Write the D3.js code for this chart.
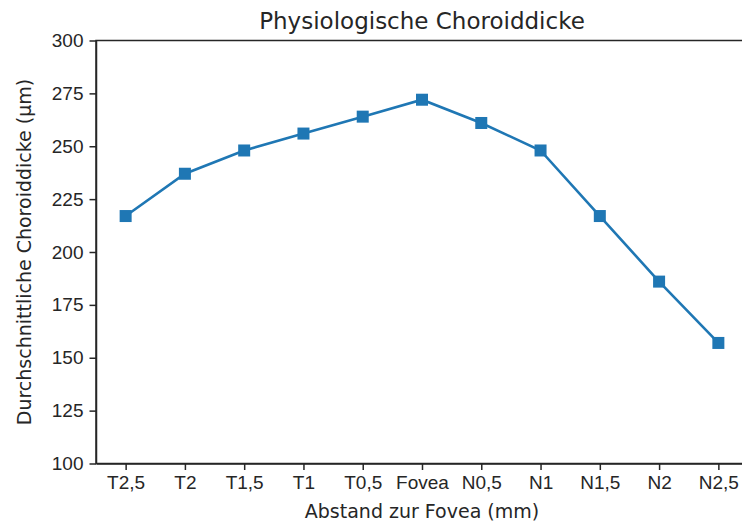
<!DOCTYPE html>
<html>
<head>
<meta charset="utf-8">
<script src="https://cdn.jsdelivr.net/npm/d3@7"></script>
<style>
  body { margin: 0; background: #fff; }
  svg { display: block; font-family: "DejaVu Sans", sans-serif; }
  .axis text { fill: #262626; font-size: 19px; }
  .axis path, .axis line { stroke: #262626; stroke-width: 1.5; }
</style>
</head>
<body>
<svg id="chart"></svg>
<script>
// Data
const categories = ["T2,5", "T2", "T1,5", "T1", "T0,5", "Fovea", "N0,5", "N1", "N1,5", "N2", "N2,5"];
const thickness = [217, 237, 248, 256, 264, 272, 261, 248, 217, 186, 157];
const yTicks = [100, 125, 150, 175, 200, 225, 250, 275, 300];

const W = 742, H = 524;
const margin = { left: 96, right: 748, top: 40.5, bottom: 463.5 };

const svg = d3.select("#chart")
    .attr("width", W)
    .attr("height", H);

// x: categorical index with matplotlib-like half-step margins
const x = d3.scaleLinear()
    .domain([-0.5, categories.length - 0.5])
    .range([margin.left, margin.right]);

const y = d3.scaleLinear()
    .domain([100, 300])
    .range([margin.bottom, margin.top]);

// frame (top + right spines; right one falls outside the crop)
svg.append("rect")
    .attr("x", margin.left)
    .attr("y", margin.top)
    .attr("width", margin.right - margin.left)
    .attr("height", margin.bottom - margin.top)
    .attr("fill", "none")
    .attr("stroke", "#262626")
    .attr("stroke-width", 1.5);

// X axis
svg.append("g")
    .attr("class", "axis")
    .attr("transform", `translate(0,${margin.bottom})`)
    .call(d3.axisBottom(x)
        .tickValues(d3.range(categories.length))
        .tickFormat(i => categories[i])
        .tickSize(6.5)
        .tickSizeOuter(0)
        .tickPadding(6));

// Y axis
svg.append("g")
    .attr("class", "axis")
    .attr("transform", `translate(${margin.left},0)`)
    .call(d3.axisLeft(y)
        .tickValues(yTicks)
        .tickSize(6.5)
        .tickSizeOuter(0)
        .tickPadding(6));

// line
const line = d3.line()
    .x((d, i) => x(i))
    .y(d => y(d));

svg.append("path")
    .datum(thickness)
    .attr("fill", "none")
    .attr("stroke", "#1f77b4")
    .attr("stroke-width", 2.6)
    .attr("d", line);

// square markers
const ms = 12;
svg.selectAll(".marker")
    .data(thickness)
    .enter()
    .append("rect")
    .attr("class", "marker")
    .attr("x", (d, i) => x(i) - ms / 2)
    .attr("y", d => y(d) - ms / 2)
    .attr("width", ms)
    .attr("height", ms)
    .attr("fill", "#1f77b4");

// title
svg.append("text")
    .attr("x", (margin.left + margin.right) / 2)
    .attr("y", 29)
    .attr("text-anchor", "middle")
    .attr("fill", "#262626")
    .style("font-size", "23px")
    .text("Physiologische Choroiddicke");

// axis labels
svg.append("text")
    .attr("x", (margin.left + margin.right) / 2)
    .attr("y", 518)
    .attr("text-anchor", "middle")
    .attr("fill", "#262626")
    .style("font-size", "19px")
    .text("Abstand zur Fovea (mm)");

svg.append("text")
    .attr("transform", `translate(31,${(margin.top + margin.bottom) / 2}) rotate(-90)`)
    .attr("text-anchor", "middle")
    .attr("fill", "#262626")
    .style("font-size", "19px")
    .text("Durchschnittliche Choroiddicke (µm)");
</script>
</body>
</html>
